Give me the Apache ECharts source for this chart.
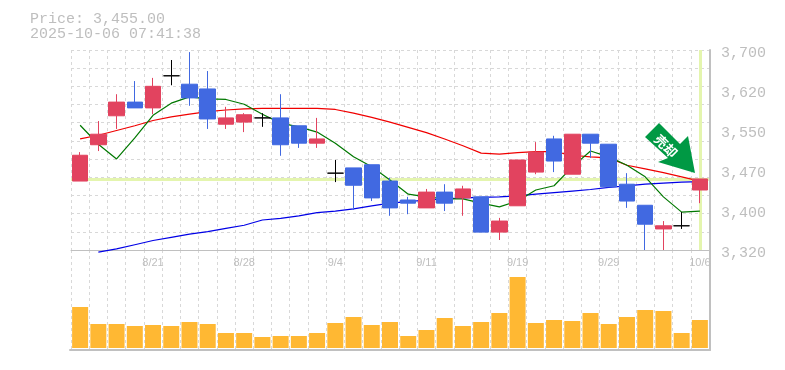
<!DOCTYPE html>
<html>
<head>
<meta charset="utf-8">
<style>
  html, body { margin: 0; padding: 0; background: #fff; }
  #chart { width: 785px; height: 370px; }
</style>
<script src="https://cdn.jsdelivr.net/npm/echarts@6/dist/echarts.min.js"></script>
</head>
<body>
<div id="chart"></div>
<script>
// trade days, only some of them get a label
const categories = ['8/15', '8/18', '8/19', '8/20', '8/21', '8/22', '8/25', '8/26', '8/27', '8/28',
  '8/29', '9/1', '9/2', '9/3', '9/4', '9/5', '9/8', '9/9', '9/10', '9/11',
  '9/12', '9/16', '9/17', '9/18', '9/19', '9/22', '9/24', '9/25', '9/26', '9/29',
  '9/30', '10/1', '10/2', '10/3', '10/6']
const tickLabels = ['8/21', '8/28', '9/4', '9/11', '9/19', '9/29', '10/6']

// open, close, low, high
const candles = [
  [3451, 3500, 3451, 3506], [3520, 3540, 3508, 3565], [3575, 3601, 3550, 3616], [3601, 3590, 3590, 3641],
  [3590, 3631, 3578, 3647], [3651, 3651, 3633, 3681], [3635, 3609, 3594, 3696], [3626, 3569, 3550, 3660],
  [3559, 3571, 3550, 3592], [3563, 3577, 3544, 3580], [3571, 3571, 3554, 3580], [3571, 3520, 3499, 3616],
  [3556, 3523, 3514, 3556], [3523, 3531, 3514, 3571], [3466, 3466, 3449, 3491], [3476, 3443, 3396, 3476],
  [3482, 3419, 3413, 3482], [3451, 3400, 3385, 3457], [3415, 3409, 3388, 3421], [3400, 3430, 3400, 3436],
  [3430, 3409, 3394, 3445], [3419, 3436, 3385, 3442], [3421, 3354, 3354, 3421], [3354, 3375, 3339, 3381],
  [3404, 3491, 3404, 3491], [3468, 3506, 3464, 3525], [3531, 3489, 3468, 3537], [3464, 3540, 3464, 3540],
  [3540, 3523, 3495, 3540], [3521, 3440, 3440, 3521], [3445, 3413, 3400, 3466], [3405, 3369, 3320, 3405],
  [3360, 3366, 3320, 3375], [3366, 3366, 3360, 3392], [3434, 3455, 3409, 3455]
]
const maShort = [3557, 3521, 3493, 3533, 3576, 3599, 3611, 3607, 3606, 3597, 3578, 3561, 3554, 3544, 3523, 3497, 3478, 3453,
  3426, 3421, 3417, 3417, 3409, 3402, 3413, 3434, 3442, 3478, 3508, 3497, 3481, 3459, 3421, 3392, 3394]
const maMid = [3531, 3538, 3547, 3556, 3566, 3573, 3578, 3583, 3586, 3588, 3589, 3589, 3589, 3589, 3587, 3580, 3572, 3563,
  3553, 3543, 3531, 3518, 3504, 3502, 3505, 3507, 3507, 3500, 3497, 3495, 3481, 3474, 3467, 3459, 3451]
const maLong = [null, 3316, 3322, 3330, 3338, 3344, 3350, 3355, 3361, 3367, 3377, 3380, 3385, 3391, 3394, 3398, 3404, 3409,
  3412, 3415, 3417, 3419, 3420, 3421, 3423, 3426, 3429, 3432, 3435, 3439, 3442, 3445, 3447, 3449, 3450]
const volumes = [4100, 2400, 2400, 2200, 2300, 2200, 2600, 2400, 1500, 1500, 1100, 1200, 1200, 1500, 2500, 3100, 2300, 2600,
  1200, 1800, 3000, 2200, 2600, 3500, 7100, 2500, 2800, 2700, 3500, 2400, 3100, 3800, 3700, 1500, 2800]
const lastPrice = 3455
const priceMin = 3320
const priceMax = 3700
const priceStep = 76

const gridColor = '#d8d8d8'
const frameColor = '#c0c0c0'
const textColor = '#bebebe'
const nowColor = '#e4f5ae'

let dashed = { show: true, interval: 0, lineStyle: { color: gridColor, type: [3, 3], width: 1 } }

let option = {
  animation: false,
  backgroundColor: '#fff',
  title: {
    text: 'Price: 3,455.00\n2025-10-06 07:41:38',
    left: 30,
    top: 12,
    padding: 0,
    textStyle: { fontFamily: 'Liberation Mono', fontSize: 15, fontWeight: 'normal', color: textColor, lineHeight: 15 }
  },
  grid: [
    { left: 71, top: 50, width: 638, height: 200 },
    { left: 71, top: 250, width: 638, height: 100 },
    { left: 70, top: 50, width: 640, height: 300 } // only the outer frame
  ],
  xAxis: [
    {
      type: 'category',
      gridIndex: 0,
      data: categories,
      axisLine: { show: true, lineStyle: { color: frameColor, width: 1 } },
      axisTick: { show: false },
      splitLine: dashed,
      axisLabel: {
        margin: 7,
        color: textColor,
        fontFamily: 'Liberation Sans',
        fontSize: 11,
        interval: function(i, v) {
          return tickLabels.indexOf(v) >= 0
        }
      }
    },
    {
      type: 'category',
      gridIndex: 1,
      data: categories,
      axisLine: { show: false },
      axisTick: { show: false },
      axisLabel: { show: false },
      splitLine: dashed
    },
    {
      type: 'value',
      gridIndex: 2,
      min: 0,
      max: 1,
      axisLine: { show: true, onZero: false, lineStyle: { color: frameColor, width: 2 } },
      axisTick: { show: false },
      axisLabel: { show: false },
      splitLine: { show: false }
    }
  ],
  yAxis: [
    {
      // price scale, labels only
      type: 'value',
      gridIndex: 0,
      position: 'right',
      min: priceMin,
      max: priceMax,
      interval: priceStep,
      axisLine: { show: false },
      axisTick: { show: false },
      splitLine: { show: false },
      axisLabel: {
        margin: 12,
        verticalAlign: 'top',
        lineHeight: 6, // labels sit a little under their tick
        color: textColor,
        fontFamily: 'Liberation Mono',
        fontSize: 15,
        formatter: function(v) {
          return (Math.round(v / 10) * 10).toLocaleString('en-US')
        }
      }
    },
    {
      // the horizontal dashes do not follow the price ticks
      type: 'value',
      gridIndex: 0,
      min: 0,
      max: 11,
      interval: 1,
      axisLine: { show: false },
      axisTick: { show: false },
      axisLabel: { show: false },
      splitLine: { show: true, lineStyle: { color: gridColor, type: [3, 3], width: 1 } }
    },
    {
      type: 'value',
      gridIndex: 1,
      min: -200,
      max: 9800,
      axisLine: { show: false },
      axisTick: { show: false },
      axisLabel: { show: false },
      splitLine: { show: false }
    },
    {
      type: 'value',
      gridIndex: 2,
      position: 'right',
      min: 0,
      max: 1,
      axisLine: { show: true, onZero: false, lineStyle: { color: frameColor, width: 2 } },
      axisTick: { show: false },
      axisLabel: { show: false },
      splitLine: { show: false }
    }
  ],
  series: [
    {
      type: 'line',
      name: 'long',
      data: maLong,
      xAxisIndex: 0,
      yAxisIndex: 0,
      z: 3,
      clip: false,
      symbol: 'none',
      connectNulls: false,
      lineStyle: { color: '#0000e6', width: 1.2 },
      markLine: {
        silent: true,
        symbol: 'none',
        z: 1,
        label: { show: false },
        lineStyle: { color: nowColor, width: 3, type: 'solid' },
        data: [{ yAxis: lastPrice }, { xAxis: categories[categories.length - 1] }]
      }
    },
    {
      type: 'line',
      name: 'mid',
      data: maMid,
      xAxisIndex: 0,
      yAxisIndex: 0,
      z: 3,
      symbol: 'none',
      lineStyle: { color: '#f00000', width: 1.2 }
    },
    {
      type: 'line',
      name: 'short',
      data: maShort,
      xAxisIndex: 0,
      yAxisIndex: 0,
      z: 3,
      symbol: 'none',
      lineStyle: { color: '#007800', width: 1.2 }
    },
    {
      type: 'candlestick',
      data: candles,
      xAxisIndex: 0,
      yAxisIndex: 0,
      z: 4,
      barWidth: 16,
      itemStyle: {
        color: '#e2435f',
        color0: '#4169e1',
        borderColor: '#e2435f',
        borderColor0: '#4169e1',
        borderColorDoji: '#000',
        borderWidth: 1
      }
    },
    {
      type: 'bar',
      data: volumes,
      xAxisIndex: 1,
      yAxisIndex: 2,
      barWidth: 16,
      itemStyle: { color: '#ffb833' }
    }
  ],
  graphic: [
    {
      type: 'polygon',
      z: 20,
      shape: { points: [[659, 123], [645, 137], [668, 158], [658, 162], [695, 173], [688, 136], [680, 144]] },
      style: { fill: '#009944' }
    },
    {
      type: 'text',
      z: 21,
      x: 666,
      y: 146,
      rotation: -Math.PI / 4,
      style: {
        text: '売却',
        fill: '#fff',
        font: 'bold 13px "Noto Sans CJK JP"',
        align: 'center',
        verticalAlign: 'middle'
      }
    }
  ]
}

var myChart = echarts.init(document.getElementById('chart'))
myChart.setOption(option)
</script>
</body>
</html>
